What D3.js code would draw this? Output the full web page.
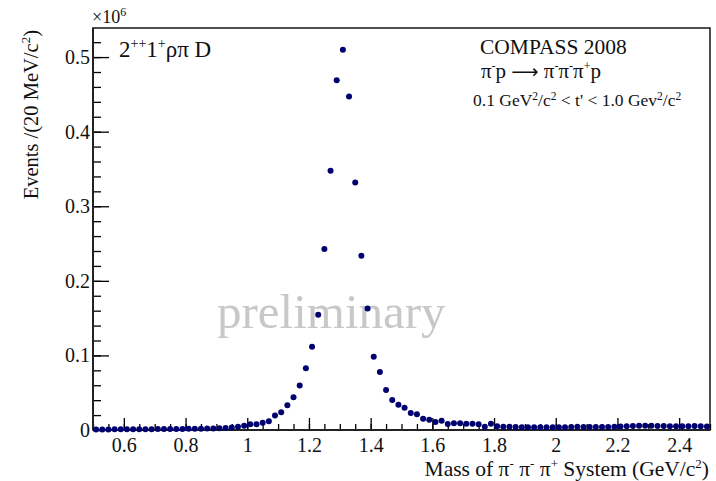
<!DOCTYPE html>
<html><head><meta charset="utf-8">
<script src="https://cdn.jsdelivr.net/npm/d3@7"></script>
<style>body{margin:0;background:#fff}svg{display:block}text{font-family:"Liberation Serif","DejaVu Serif",serif}</style>
</head><body><svg id="c" width="716" height="481"></svg>
<script>
// bin centres (GeV/c^2), 20 MeV bins
const massBins = [0.51,0.53,0.55,0.57,0.59,0.61,0.63,0.65,0.67,0.69,0.71,0.73,0.75,0.77,0.79,0.81,0.83,0.85,0.87,0.89,
0.91,0.93,0.95,0.97,0.99,1.01,1.03,1.05,1.07,1.09,1.11,1.13,1.15,1.17,1.19,1.21,1.23,1.25,1.27,1.29,
1.31,1.33,1.35,1.37,1.39,1.41,1.43,1.45,1.47,1.49,1.51,1.53,1.55,1.57,1.59,1.61,1.63,1.65,1.67,1.69,
1.71,1.73,1.75,1.77,1.79,1.81,1.83,1.85,1.87,1.89,1.91,1.93,1.95,1.97,1.99,2.01,2.03,2.05,2.07,2.09,
2.11,2.13,2.15,2.17,2.19,2.21,2.23,2.25,2.27,2.29,2.31,2.33,2.35,2.37,2.39,2.41,2.43,2.45,2.47,2.49];
// events (x10^6)
const events = [0.0008,0.0008,0.0008,0.0009,0.0009,0.0009,0.0010,0.0010,0.0011,0.0011,
0.0012,0.0013,0.0013,0.0014,0.0015,0.0016,0.0017,0.0018,0.0019,0.0021,
0.0023,0.0026,0.0034,0.0044,0.0058,0.0076,0.0078,0.0098,0.0118,0.0195,
0.0237,0.0331,0.0440,0.0597,0.0827,0.1117,0.1545,0.2426,0.3476,0.469,
0.510,0.447,0.332,0.2337,0.163,0.0983,0.0777,0.0536,0.0402,0.0340,
0.0300,0.0228,0.0212,0.0152,0.0137,0.0107,0.0125,0.0080,0.0090,0.0090,
0.0085,0.0084,0.0076,0.0045,0.0085,0.0050,0.0045,0.0042,0.0040,0.0038,
0.0037,0.0037,0.0036,0.0036,0.0036,0.0037,0.0038,0.0040,0.0042,0.0040,
0.0040,0.0041,0.0040,0.0041,0.0042,0.0048,0.0050,0.0055,0.0058,0.0058,
0.0056,0.0055,0.0052,0.0050,0.0050,0.0051,0.0050,0.0052,0.0050,0.0048];
const xTicks = [0.6,0.8,1.0,1.2,1.4,1.6,1.8,2.0,2.2,2.4];
const yTicks = [0,0.1,0.2,0.3,0.4,0.5];
const xDomain = [0.5,2.5];
const yDomain = [0,0.539];

const svg = d3.select("#c");
const L=93, R=710, T=28, B=430;
const x = d3.scaleLinear().domain(xDomain).range([L,R]);
const y = d3.scaleLinear().domain(yDomain).range([B,T]);
const ink="#000", frameCol="#222";

// watermark
svg.append("text").attr("x",217).attr("y",328).attr("font-size",49).attr("fill","#c8c8c8").text("preliminary");

// frame
svg.append("rect").attr("x",L).attr("y",T).attr("width",R-L).attr("height",B-T)
  .attr("fill","none").attr("stroke",frameCol).attr("stroke-width",1.6);

// minor ticks
const xMinor = d3.range(0.5,2.5001,0.05).map(v=>+v.toFixed(2));
const yMinor = d3.range(0,0.5391,0.02).map(v=>+v.toFixed(2));
const gx = svg.append("g").attr("transform",`translate(0,${B})`);
gx.append("g").call(d3.axisBottom(x).tickValues(xMinor).tickSize(-6).tickFormat(""));
const gxM = gx.append("g").call(d3.axisBottom(x).tickValues(xTicks).tickSize(-12).tickFormat(d3.format("~g")));
gx.selectAll(".domain").remove();
gx.selectAll("line").attr("stroke",ink).attr("stroke-width",1.3);
gxM.selectAll("text").attr("y",8).attr("dy","0.71em").attr("font-size",20).attr("fill","#111")
  .attr("font-family","Liberation Serif");

const gy = svg.append("g").attr("transform",`translate(${L},0)`);
gy.append("g").call(d3.axisLeft(y).tickValues(yMinor).tickSize(-8).tickFormat(""));
const gyM = gy.append("g").call(d3.axisLeft(y).tickValues(yTicks).tickSize(-16).tickFormat(d3.format("~g")));
gy.selectAll(".domain").remove();
gy.selectAll("line").attr("stroke",ink).attr("stroke-width",1.3);
gyM.selectAll("text").attr("x",-3).attr("font-size",20).attr("fill","#111").attr("font-family","Liberation Serif");

// axes lines re-drawn
svg.append("line").attr("x1",L).attr("x2",R).attr("y1",B).attr("y2",B).attr("stroke",frameCol).attr("stroke-width",2);
svg.append("line").attr("x1",L).attr("x2",L).attr("y1",T).attr("y2",B).attr("stroke",frameCol).attr("stroke-width",2);

// data points
svg.append("g").selectAll("circle").data(massBins.map((m,i)=>[m,events[i]])).join("circle")
  .attr("cx",d=>x(d[0])).attr("cy",d=>y(d[1])).attr("r",3).attr("fill","#000070");

// multiplier
const mult = svg.append("text").attr("x",92).attr("y",23).attr("font-size",18).attr("fill","#111");
mult.append("tspan").text("×10");
mult.append("tspan").attr("font-size",12).attr("dy",-7).text("6");

// wave label
const wl = svg.append("text").attr("x",119).attr("y",57).attr("font-size",23).attr("fill","#111");
wl.append("tspan").text("2");
wl.append("tspan").attr("font-size",14).attr("dy",-9).text("++");
wl.append("tspan").attr("dy",9).text("1");
wl.append("tspan").attr("font-size",14).attr("dy",-9).text("+");
wl.append("tspan").attr("dy",9).text("ρπ D");

// experiment label
svg.append("text").attr("x",480).attr("y",54).attr("font-size",21.5).attr("fill","#111").text("COMPASS 2008");
const rx = svg.append("text").attr("x",481).attr("y",78).attr("font-size",21).attr("fill","#111");
rx.append("tspan").text("π");
rx.append("tspan").attr("font-size",12).attr("dy",-8).text("-");
rx.append("tspan").attr("dy",8).text("p ");
rx.append("tspan").attr("font-family","DejaVu Sans").attr("font-size",19).text("⟶");
rx.append("tspan").text(" π");
rx.append("tspan").attr("font-size",12).attr("dy",-8).text("-");
rx.append("tspan").attr("dy",8).text("π");
rx.append("tspan").attr("font-size",12).attr("dy",-8).text("-");
rx.append("tspan").attr("dy",8).text("π");
rx.append("tspan").attr("font-size",12).attr("dy",-8).text("+");
rx.append("tspan").attr("dy",8).text("p");
const tr = svg.append("text").attr("x",473).attr("y",106).attr("font-size",17.5).attr("fill","#111");
tr.append("tspan").text("0.1 GeV");
tr.append("tspan").attr("font-size",11.5).attr("dy",-6).text("2");
tr.append("tspan").attr("dy",6).text("/c");
tr.append("tspan").attr("font-size",11.5).attr("dy",-6).text("2");
tr.append("tspan").attr("dy",6).text(" < t' < 1.0 Gev");
tr.append("tspan").attr("font-size",11.5).attr("dy",-6).text("2");
tr.append("tspan").attr("dy",6).text("/c");
tr.append("tspan").attr("font-size",11.5).attr("dy",-6).text("2");

// x title
const xt = svg.append("text").attr("x",709).attr("y",476).attr("text-anchor","end").attr("font-size",21.5).attr("fill","#111");
xt.append("tspan").text("Mass of  π");
xt.append("tspan").attr("font-size",13).attr("dy",-8).text("-");
xt.append("tspan").attr("dy",8).text(" π");
xt.append("tspan").attr("font-size",13).attr("dy",-8).text("-");
xt.append("tspan").attr("dy",8).text(" π");
xt.append("tspan").attr("font-size",13).attr("dy",-8).text("+");
xt.append("tspan").attr("dy",8).text(" System (GeV/c");
xt.append("tspan").attr("font-size",13).attr("dy",-8).text("2");
xt.append("tspan").attr("dy",8).text(")");

// y title
const yt = svg.append("text").attr("transform","translate(38,30) rotate(-90)").attr("text-anchor","end").attr("font-size",20.5).attr("fill","#111");
yt.append("tspan").text("Events /(20 MeV/c");
yt.append("tspan").attr("font-size",13).attr("dy",-8).text("2");
yt.append("tspan").attr("dy",8).text(")");
</script></body></html>
